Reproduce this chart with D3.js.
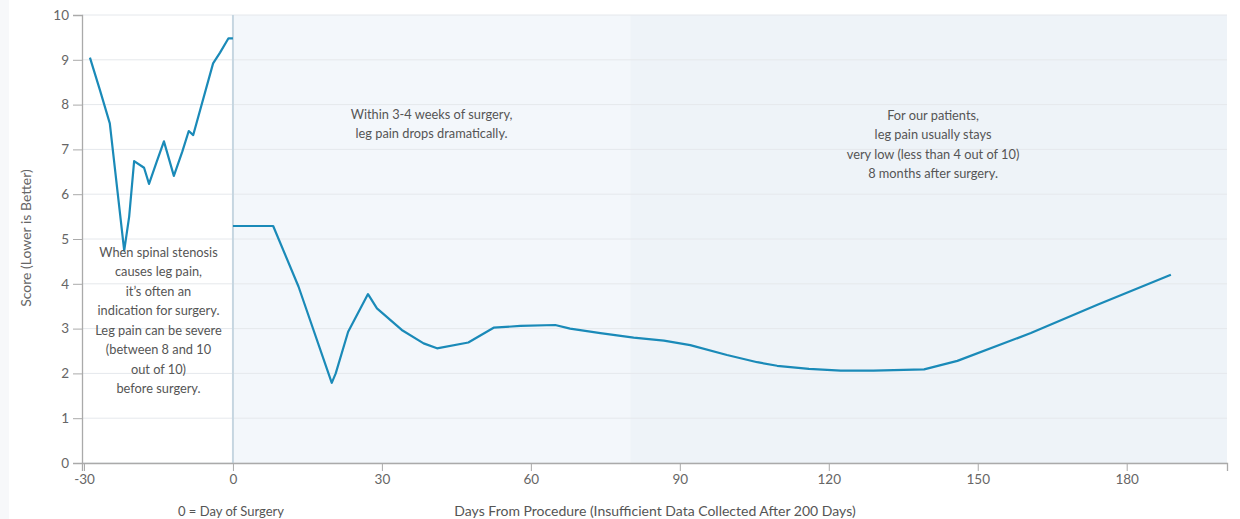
<!DOCTYPE html>
<html><head><meta charset="utf-8">
<script src="https://cdn.jsdelivr.net/npm/d3@7"></script>
<style>
html,body{margin:0;padding:0;background:#fff;}
svg{display:block;font-family:Lato,"Source Sans Pro","Open Sans",sans-serif;}
</style></head><body>
<svg id="c" width="1240" height="519"></svg>
<script>
const preDays   = [-28.8,-26.8,-24.8,-21.9,-20.9,-19.9,-17.9,-16.9,-15.4,-13.9,-11.9,-10.2,-8.9,-8.0,-4.0,-2.6,-0.9,0];
const preScores = [9.05,8.33,7.58,4.74,5.5,6.74,6.59,6.23,6.71,7.18,6.41,6.95,7.41,7.32,8.92,9.16,9.48,9.48];
const postDays   = [0,8.1,13.2,19.9,20.7,23.2,27.2,29,34,38.4,41.1,47.4,52.5,57.9,64.9,67.9,74,80.7,86.8,92.1,99.5,105.6,109.6,116,122.4,129,139.2,145.9,160.7,174.1,188.9];
const postScores = [5.29,5.29,3.94,1.79,2.0,2.93,3.77,3.45,2.97,2.67,2.56,2.69,3.02,3.06,3.08,3.0,2.9,2.8,2.73,2.63,2.41,2.25,2.17,2.1,2.06,2.06,2.09,2.28,2.9,3.53,4.2];
const xTicks = [-30,0,30,60,90,120,150,180];
const yTicks = [0,1,2,3,4,5,6,7,8,9,10];
const bands = [{from:0,to:80},{from:80,to:200.2}];
const notes = [
  {x:-15, y:4.6, lines:["When spinal stenosis","causes leg pain,","it\u2019s often an","indication for surgery.","Leg pain can be severe","(between 8 and 10","out of 10)","before surgery."]},
  {x:40, y:7.68, lines:["Within 3-4 weeks of surgery,","leg pain drops dramatically."]},
  {x:141, y:7.66, lines:["For our patients,","leg pain usually stays","very low (less than 4 out of 10)","8 months after surgery."]}
];
const xTitle = "Days From Procedure (Insufficient Data Collected After 200 Days)";
const xNote = "0 = Day of Surgery";
const yTitle = "Score (Lower is Better)";

const svg = d3.select("#c");
const x = d3.scaleLinear().domain([-30.4,200.2]).range([82,1227]);
const y = d3.scaleLinear().domain([0,10]).range([463,15]);

svg.append("rect").attr("x",0).attr("y",0).attr("width",9).attr("height",519).attr("fill","#f7f8fa");

const bandColors = ["#f3f7fb","#eef3f8"];
svg.selectAll("rect.band").data(bands).enter().append("rect")
  .attr("class","band")
  .attr("x",d=>x(d.from)).attr("width",d=>x(d.to)-x(d.from))
  .attr("y",y(10)).attr("height",y(0)-y(10))
  .attr("fill",(d,i)=>bandColors[i]);

svg.append("g").selectAll("line").data(yTicks).enter().append("line")
  .attr("x1",x(-30.4)).attr("x2",x(200.2))
  .attr("y1",d=>y(d)).attr("y2",d=>y(d))
  .attr("stroke","#e5e8ec").attr("stroke-width",1);

svg.append("line").attr("x1",x(0)).attr("x2",x(0)).attr("y1",y(10)).attr("y2",y(0))
  .attr("stroke","#c6d6e1").attr("stroke-width",2);

const fmt = d=>String(d);
const yAxis = svg.append("g").attr("transform",`translate(${x(-30.4)},0)`)
  .call(d3.axisLeft(y).tickValues(yTicks).tickFormat(fmt).tickSize(9).tickPadding(4));
const xAxis = svg.append("g").attr("transform",`translate(0,${y(0)})`)
  .call(d3.axisBottom(x).tickValues(xTicks).tickFormat(fmt).tickSize(8).tickPadding(3));
[yAxis,xAxis].forEach(g=>{
  g.select(".domain").attr("stroke","#aaaaaa").attr("stroke-width",1.3);
  g.selectAll(".tick line").attr("stroke","#aaaaaa");
  g.selectAll(".tick text").attr("fill","#666").style("font-size","13.5px").style("font-family","Lato,sans-serif");
});

const line = d3.line().x(d=>x(d[0])).y(d=>y(d[1]));
[[preDays,preScores],[postDays,postScores]].forEach(([ds,ss])=>{
  svg.append("path").datum(ds.map((d,i)=>[d,ss[i]]))
    .attr("d",line).attr("fill","none").attr("stroke","#1a8ab8")
    .attr("stroke-width",2.2).attr("stroke-linejoin","round");
});

notes.forEach(n=>{
  const t = svg.append("text").attr("text-anchor","middle").attr("fill","#555").style("font-size","12.8px");
  n.lines.forEach((l,i)=>{
    t.append("tspan").attr("x",x(n.x)).attr("y",y(n.y)+i*19.5).text(l);
  });
});

svg.append("text").attr("x",x(-0.4)).attr("y",516).attr("text-anchor","middle")
  .attr("fill","#555").style("font-size","13px").text(xNote);
svg.append("text").attr("x",x(85)).attr("y",516).attr("text-anchor","middle")
  .attr("fill","#555").style("font-size","14px").text(xTitle);
svg.append("text").attr("transform",`translate(31,238) rotate(-90)`).attr("text-anchor","middle")
  .attr("fill","#666").style("font-size","14px").text(yTitle);
</script>
</body></html>
